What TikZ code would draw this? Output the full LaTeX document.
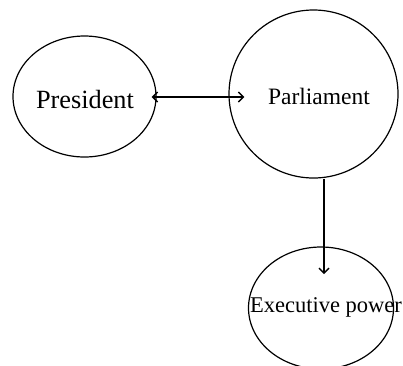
\documentclass[tikz,border=0pt]{standalone}
\usepackage{fontspec}
\setmainfont{Liberation Serif}
\usetikzlibrary{shapes.geometric,arrows.meta}
\begin{document}
\begin{tikzpicture}[x=1pt,y=-1pt,
  oval/.style={draw,ellipse,line width=1.2pt,inner sep=0pt},
  lbl/.style={inner sep=0pt,anchor=base},
  conn/.style={line width=1.4pt,-{Straight Barb[length=5pt,width=10pt]}}]
\useasboundingbox (0,0) rectangle (403,365);
\node[oval,minimum width=143pt,minimum height=121pt] (pres) at (84.5,96.5) {};
\node[oval,minimum width=145pt,minimum height=168pt,minimum width=169pt] (parl) at (313.5,94) {};
\node[oval,minimum width=145pt,minimum height=122pt] (exec) at (321,308) {};
\node[lbl,font=\fontsize{26.3}{30}\selectfont] (tpres) at (85,108) {President};
\node[lbl,font=\fontsize{23.5}{28}\selectfont] (tparl) at (319,104) {Parliament};
\node[lbl,font=\fontsize{22.5}{27}\selectfont] (texec) at (326,312) {Executive power};
\coordinate (a1) at ([xshift=-5pt,yshift=-0.5pt]pres.east);
\coordinate (a2) at ([xshift=16pt,yshift=-3pt]parl.west);
\draw[conn,{Straight Barb[length=5pt,width=10pt]}-{Straight Barb[length=5pt,width=10pt]}] (a1) -- (a1 -| a2);
\coordinate (b1) at ([xshift=10.5pt]parl.south);
\coordinate (b2) at (b1 |- 0,274);
\draw[conn] (b1) -- (b2);
\end{tikzpicture}
\end{document}
